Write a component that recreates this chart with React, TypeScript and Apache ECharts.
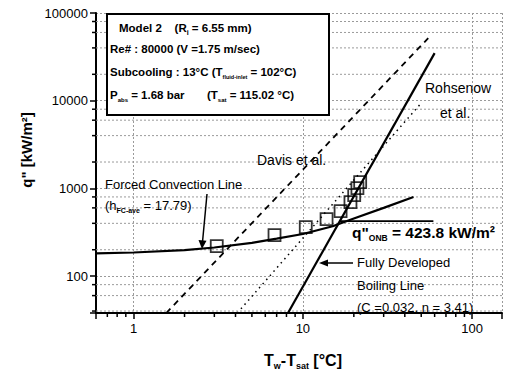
import React, { useEffect, useRef } from 'react';
import * as echarts from 'echarts';

// Axis extents and tick values
const X_MIN = 0.6;
const X_MAX = 150;
const Y_MIN = 38;
const Y_MAX = 100000;
const xMajorLabels = [1, 10, 100];
const yMajorLabels = [100, 1000, 10000, 100000];
const xMinorTicks = [0.7, 0.8, 0.9, 2, 3, 4, 5, 6, 7, 8, 9, 20, 30, 40, 50, 60, 70, 80, 90];
const yMinorGrid = [40, 60, 80, 200, 400, 600, 800, 2000, 4000, 6000, 8000, 20000, 40000, 60000, 80000];

// Forced convection line
const fcDeltaT = [0.6, 1, 2, 3, 5, 7, 10, 15, 20, 30, 45];
const fcQ = [182, 186, 198, 212, 240, 268, 302, 370, 455, 600, 800];

// Experimental points
const expDeltaT = [3.1, 6.8, 10.4, 13.8, 16.7, 19.1, 20.1, 21.0, 21.8];
const expQ = [220, 293, 362, 447, 551, 697, 837, 1010, 1180];

// Davis et al. (dashed)
const davisDeltaT = [1.56, 55];
const davisQ = [38, 51700];

// Dotted correlation
const dottedDeltaT = [4.1, 50];
const dottedQ = [38, 9400];

// Fully developed boiling line (Rohsenow et al.)
const fdbDeltaT = [8.17, 60];
const fdbQ = [38, 34900];

// q"ONB line
const onbDeltaT = [16.5, 59];
const onbQ = [423.8, 423.8];

const FONT = "'Liberation Sans', Arial, sans-serif";

const zip = (a: number[], b: number[]) => a.map((v, i) => [v, b[i]]);

const isMajor = (v: number, list: number[]) => list.some((m) => Math.abs(v - m) / m < 1e-6);

export default function App() {
  const ref = useRef<HTMLDivElement>(null);

  useEffect(() => {
    if (!ref.current) return;
    const chart = echarts.init(ref.current, undefined, { renderer: 'svg' });

    const gridLine = { color: '#9a9a9a', width: 1, type: [2, 2] as any };

    const option: any = {
      animation: false,
      backgroundColor: '#fff',
      grid: { left: 96, top: 13, right: 0, bottom: 65 },
      xAxis: {
        type: 'log',
        logBase: 10,
        min: X_MIN,
        max: X_MAX,
        axisLine: { lineStyle: { color: '#000', width: 2 } },
        axisTick: { length: 6, lineStyle: { color: '#000', width: 1.5 } },
        axisLabel: {
          color: '#000',
          fontFamily: FONT,
          fontSize: 13,
          margin: 9,
          formatter: (v: number) => (isMajor(v, xMajorLabels) ? String(Math.round(v)) : ''),
        },
        splitLine: { show: true, lineStyle: gridLine },
      },
      yAxis: {
        type: 'log',
        logBase: 10,
        min: Y_MIN,
        max: Y_MAX,
        axisLine: { lineStyle: { color: '#000', width: 2 } },
        axisTick: { length: 6, lineStyle: { color: '#000', width: 1.5 } },
        axisLabel: {
          color: '#000',
          fontFamily: FONT,
          fontSize: 13,
          margin: 8,
          formatter: (v: number) => (isMajor(v, yMajorLabels) ? String(Math.round(v)) : ''),
        },
        splitLine: { show: true, lineStyle: gridLine },
      },
      series: [
        {
          type: 'custom',
          coordinateSystem: 'cartesian2d',
          silent: true,
          z: 1,
          data: xMinorTicks.map((v) => [v, Y_MIN]),
          renderItem: (_p: any, api: any) => {
            const p = api.coord([api.value(0), api.value(1)]);
            return {
              type: 'line',
              shape: { x1: p[0], y1: p[1], x2: p[0], y2: p[1] + 4 },
              style: { stroke: '#000', lineWidth: 1.5 },
            };
          },
        },
        {
          type: 'custom',
          coordinateSystem: 'cartesian2d',
          silent: true,
          z: 1,
          data: yMinorGrid.map((v) => [X_MIN, v]),
          renderItem: (_p: any, api: any) => {
            const p = api.coord([X_MIN, api.value(1)]);
            const p2 = api.coord([X_MAX, api.value(1)]);
            return {
              type: 'group',
              children: [
                {
                  type: 'line',
                  shape: { x1: p[0], y1: p[1], x2: p2[0], y2: p2[1] },
                  style: { stroke: '#9a9a9a', lineWidth: 1, lineDash: [2, 2] },
                },
                {
                  type: 'line',
                  shape: { x1: p[0] - 4, y1: p[1], x2: p[0], y2: p[1] },
                  style: { stroke: '#000', lineWidth: 1.5 },
                },
              ],
            };
          },
        },
        {
          type: 'line',
          data: zip(davisDeltaT, davisQ),
          showSymbol: false,
          z: 3,
          lineStyle: { color: '#000', width: 1.8, type: [6, 5] },
        },
        {
          type: 'line',
          data: zip(dottedDeltaT, dottedQ),
          showSymbol: false,
          z: 3,
          lineStyle: { color: '#000', width: 1.5, type: [1.5, 4] },
        },
        {
          type: 'line',
          data: zip(fdbDeltaT, fdbQ),
          showSymbol: false,
          z: 4,
          lineStyle: { color: '#000', width: 2.2 },
        },
        {
          type: 'line',
          data: zip(fcDeltaT, fcQ),
          showSymbol: false,
          smooth: false,
          z: 4,
          lineStyle: { color: '#000', width: 2.2 },
        },
        {
          type: 'line',
          data: zip(onbDeltaT, onbQ),
          showSymbol: false,
          z: 4,
          lineStyle: { color: '#000', width: 1.6 },
        },
        {
          type: 'scatter',
          data: zip(expDeltaT, expQ),
          symbol: 'rect',
          symbolSize: 12,
          z: 5,
          itemStyle: { color: 'rgba(255,255,255,0)', borderColor: '#000', borderWidth: 1.8 },
        },
      ],
      graphic: [
        {
          type: 'rect',
          z: 10,
          shape: { x: 107, y: 14, width: 222, height: 101 },
          style: { fill: '#fff', stroke: '#000', lineWidth: 2 },
        },
        {
          type: 'text',
          z: 11,
          x: 119,
          y: 28,
          style: {
            text: '{b|Model 2    (R}{s|i}{b| = 6.55 mm)}',
            verticalAlign: 'middle',
            fill: '#000',
            rich: {
              b: { fontFamily: FONT, fontWeight: 'bold', fontSize: 11.5, lineHeight: 16 },
              s: { fontFamily: FONT, fontWeight: 'bold', fontSize: 7, lineHeight: 8, verticalAlign: 'bottom' },
            },
          },
        },
        {
          type: 'text',
          z: 11,
          x: 110,
          y: 49,
          style: {
            text: 'Re# : 80000 (V =1.75 m/sec)',
            font: `bold 11.5px ${FONT}`,
            verticalAlign: 'middle',
            fill: '#000',
          },
        },
        {
          type: 'text',
          z: 11,
          x: 110,
          y: 72,
          style: {
            text: '{b|Subcooling : 13°C (T}{s|fluid-inlet}{b| = 102°C)}',
            verticalAlign: 'middle',
            fill: '#000',
            rich: {
              b: { fontFamily: FONT, fontWeight: 'bold', fontSize: 11.5, lineHeight: 16 },
              s: { fontFamily: FONT, fontWeight: 'bold', fontSize: 5.5, lineHeight: 7, verticalAlign: 'bottom' },
            },
          },
        },
        {
          type: 'text',
          z: 11,
          x: 110,
          y: 95,
          style: {
            text: '{b|P}{s|abs}{b| = 1.68 bar       (T}{s|sat}{b| = 115.02 °C)}',
            verticalAlign: 'middle',
            fill: '#000',
            rich: {
              b: { fontFamily: FONT, fontWeight: 'bold', fontSize: 11.5, lineHeight: 16 },
              s: { fontFamily: FONT, fontWeight: 'bold', fontSize: 6, lineHeight: 7, verticalAlign: 'bottom' },
            },
          },
        },
        {
          type: 'text',
          z: 11,
          x: 425,
          y: 88,
          style: { text: 'Rohsenow', font: `14px ${FONT}`, verticalAlign: 'middle', fill: '#000' },
        },
        {
          type: 'text',
          z: 11,
          x: 440,
          y: 113,
          style: { text: 'et al.', font: `14px ${FONT}`, verticalAlign: 'middle', fill: '#000' },
        },
        {
          type: 'text',
          z: 11,
          x: 257,
          y: 160,
          style: { text: 'Davis et al.', font: `14px ${FONT}`, verticalAlign: 'middle', fill: '#000' },
        },
        {
          type: 'text',
          z: 11,
          x: 105,
          y: 184,
          style: { text: 'Forced Convection Line', font: `13px ${FONT}`, verticalAlign: 'middle', fill: '#000' },
        },
        {
          type: 'text',
          z: 11,
          x: 105,
          y: 205,
          style: {
            text: '{b|(h}{s|FC-ave}{b| = 17.79)}',
            verticalAlign: 'middle',
            fill: '#000',
            rich: {
              b: { fontFamily: FONT, fontSize: 13, lineHeight: 18 },
              s: { fontFamily: FONT, fontWeight: 'bold', fontSize: 7, lineHeight: 9, verticalAlign: 'bottom' },
            },
          },
        },
        {
          type: 'line',
          z: 11,
          shape: { x1: 207, y1: 194, x2: 202.5, y2: 242 },
          style: { stroke: '#000', lineWidth: 1.5 },
        },
        {
          type: 'polygon',
          z: 11,
          shape: { points: [[198.5, 240], [206.5, 240.8], [202, 249]] },
          style: { fill: '#000' },
        },
        {
          type: 'text',
          z: 11,
          x: 357,
          y: 262,
          style: { text: 'Fully Developed', font: `13px ${FONT}`, verticalAlign: 'middle', fill: '#000' },
        },
        {
          type: 'text',
          z: 11,
          x: 357,
          y: 285,
          style: { text: 'Boiling Line', font: `13px ${FONT}`, verticalAlign: 'middle', fill: '#000' },
        },
        {
          type: 'text',
          z: 11,
          x: 357,
          y: 307,
          style: { text: '(C =0.032, n = 3.41)', font: `13px ${FONT}`, verticalAlign: 'middle', fill: '#000' },
        },
        {
          type: 'line',
          z: 11,
          shape: { x1: 326, y1: 263, x2: 353, y2: 263 },
          style: { stroke: '#000', lineWidth: 1.5 },
        },
        {
          type: 'polygon',
          z: 11,
          shape: { points: [[319, 263], [328, 259.5], [328, 266.5]] },
          style: { fill: '#000' },
        },
        {
          type: 'text',
          z: 11,
          x: 352,
          y: 232,
          style: {
            text: '{b|q"}{s|ONB}{b| = 423.8 kW/m²}',
            verticalAlign: 'middle',
            fill: '#000',
            rich: {
              b: { fontFamily: FONT, fontWeight: 'bold', fontSize: 15.5, lineHeight: 20 },
              s: { fontFamily: FONT, fontWeight: 'bold', fontSize: 8.5, lineHeight: 10, verticalAlign: 'bottom' },
            },
          },
        },
        {
          type: 'text',
          z: 11,
          x: 303,
          y: 360,
          style: {
            text: '{b|T}{s|w}{b|-T}{s|sat}{b| [°C]}',
            align: 'center',
            verticalAlign: 'middle',
            fill: '#000',
            rich: {
              b: { fontFamily: FONT, fontWeight: 'bold', fontSize: 16, lineHeight: 20 },
              s: { fontFamily: FONT, fontWeight: 'bold', fontSize: 9, lineHeight: 10, verticalAlign: 'bottom' },
            },
          },
        },
        {
          type: 'text',
          z: 11,
          x: 26,
          y: 150,
          rotation: Math.PI / 2,
          style: {
            text: 'q" [kW/m²]',
            font: `bold 15px ${FONT}`,
            align: 'center',
            verticalAlign: 'middle',
            fill: '#000',
          },
        },
      ],
    };

    chart.setOption(option);
    return () => chart.dispose();
  }, []);

  return (
    <div
      ref={ref}
      style={{ position: 'absolute', left: 0, top: 0, width: 505, height: 378, background: '#fff' }}
    />
  );
}
